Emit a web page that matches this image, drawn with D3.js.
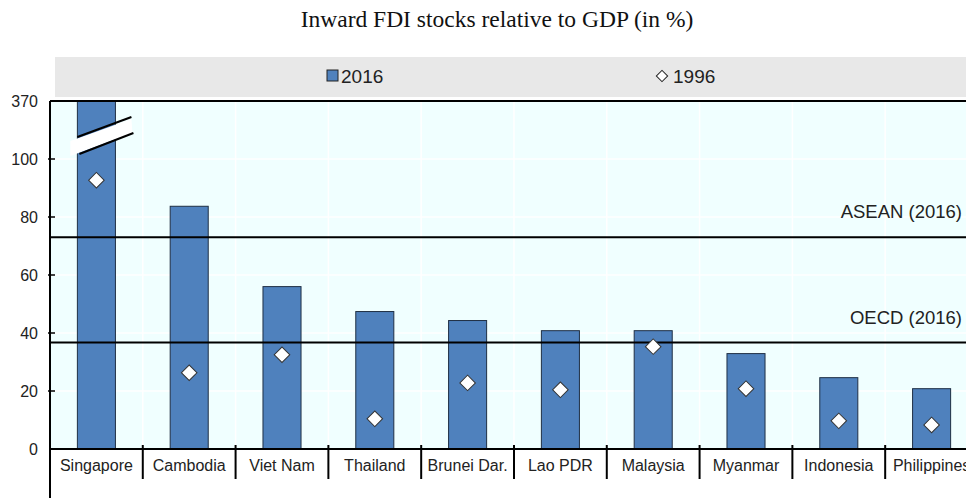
<!DOCTYPE html>
<html>
<head>
<meta charset="utf-8">
<script src="https://cdn.jsdelivr.net/npm/d3@7"></script>
<style>
  body { margin: 0; background: #fff; }
  text { font-family: "Liberation Sans Narrow", "Arial Narrow", "Liberation Sans", sans-serif; }
</style>
</head>
<body>
<div class="chart"></div>
<script>
// data
var countries = ["Singapore", "Cambodia", "Viet Nam", "Thailand", "Brunei Dar.", "Lao PDR", "Malaysia", "Myanmar", "Indonesia", "Philippines"];
var values2016 = [370, 83.7, 56, 47.4, 44.3, 40.8, 40.8, 32.9, 24.6, 20.8];
var values1996 = [92.7, 26.3, 32.5, 10.4, 22.8, 20.4, 35.3, 20.8, 9.7, 8.3];
var yTicks = [0, 20, 40, 60, 80, 100, 120];
var yTickLabels = ["0", "20", "40", "60", "80", "100", "370"];
var refLines = [{label: "ASEAN (2016)", value: 73}, {label: "OECD (2016)", value: 36.7}];
var breakValue = 120; // top of the axis stands for 370

var svgWidth = 966;
var svgHeight = 498;
var margin = {top: 101, right: 0, bottom: 49, left: 50};
var width = svgWidth - margin.left - margin.right;
var height = svgHeight - margin.top - margin.bottom;

var svg = d3.select(".chart").append("svg")
  .attr("width", svgWidth)
  .attr("height", svgHeight);

// title
svg.append("text")
  .attr("x", 497)
  .attr("y", 27)
  .attr("text-anchor", "middle")
  .style("font-family", "'Liberation Serif', 'Times New Roman', serif")
  .style("font-size", "23.5px")
  .attr("fill", "#111")
  .text("Inward FDI stocks relative to GDP (in %)");

// legend box
svg.append("rect")
  .attr("x", 55).attr("y", 57)
  .attr("width", 911).attr("height", 40)
  .attr("fill", "#e8e8e8");

svg.append("rect")
  .attr("x", 327).attr("y", 70)
  .attr("width", 11).attr("height", 11)
  .attr("fill", "#4f81bd").attr("stroke", "#222").attr("stroke-width", 1);
svg.append("text")
  .attr("x", 341).attr("y", 83)
  .style("font-size", "19px").attr("fill", "#222")
  .text("2016");

svg.append("path")
  .attr("transform", "translate(662,76) rotate(45)")
  .attr("d", "M-4,-4H4V4H-4Z")
  .attr("fill", "#fff").attr("stroke", "#222").attr("stroke-width", 1);
svg.append("text")
  .attr("x", 673).attr("y", 83)
  .style("font-size", "19px").attr("fill", "#222")
  .text("1996");

var chartGroup = svg.append("g")
  .attr("transform", `translate(${margin.left}, ${margin.top})`);

var xScale = d3.scaleBand()
  .domain(countries)
  .range([0, 92.8 * countries.length])
  .paddingInner(0.59)
  .paddingOuter(0.295);

var yScale = d3.scaleLinear()
  .domain([0, breakValue])
  .range([height, 0]);

// background
chartGroup.append("rect")
  .attr("width", width).attr("height", height)
  .attr("fill", "#f0ffff");

// white grid lines
chartGroup.selectAll(".hgrid")
  .data(yTicks.slice(1, -1))
  .enter().append("line")
  .attr("x1", 0).attr("x2", width)
  .attr("y1", d => yScale(d)).attr("y2", d => yScale(d))
  .attr("stroke", "#fff").attr("stroke-width", 1.5);

chartGroup.selectAll(".vgrid")
  .data(countries.slice(1))
  .enter().append("line")
  .attr("x1", d => xScale(d) - xScale.bandwidth() * 0.72)
  .attr("x2", d => xScale(d) - xScale.bandwidth() * 0.72)
  .attr("y1", 0).attr("y2", height)
  .attr("stroke", "#fff").attr("stroke-width", 1.5);

// bars
chartGroup.selectAll(".bar")
  .data(countries)
  .enter().append("rect")
  .attr("x", d => xScale(d))
  .attr("y", (d, i) => yScale(Math.min(values2016[i], breakValue)))
  .attr("width", xScale.bandwidth())
  .attr("height", (d, i) => height - yScale(Math.min(values2016[i], breakValue)))
  .attr("fill", "#4f81bd")
  .attr("stroke", "#1f2f44").attr("stroke-width", 1);

// axis break on the first bar
var bx = xScale(countries[0]);
var bw = xScale.bandwidth();
chartGroup.append("path")
  .attr("d", `M${bx - 7},${40} L${bx + bw + 16},${18} L${bx + bw + 17},${32} L${bx - 7},${55} Z`)
  .attr("fill", "#fff");
chartGroup.append("line")
  .attr("x1", bx).attr("y1", 36)
  .attr("x2", bx + bw + 16).attr("y2", 16)
  .attr("stroke", "#000").attr("stroke-width", 2);
chartGroup.append("line")
  .attr("x1", bx + 2).attr("y1", 53)
  .attr("x2", bx + bw + 18).attr("y2", 32)
  .attr("stroke", "#000").attr("stroke-width", 2);

// reference lines
chartGroup.selectAll(".ref")
  .data(refLines)
  .enter().append("line")
  .attr("x1", 0).attr("x2", width)
  .attr("y1", d => yScale(d.value)).attr("y2", d => yScale(d.value))
  .attr("stroke", "#000").attr("stroke-width", 2);

chartGroup.selectAll(".refLabel")
  .data(refLines)
  .enter().append("text")
  .attr("x", width - 4)
  .attr("y", d => yScale(d.value) - 19)
  .attr("text-anchor", "end")
  .style("font-size", "18.5px").attr("fill", "#222")
  .text(d => d.label);

// 1996 diamonds
chartGroup.selectAll(".dot")
  .data(countries)
  .enter().append("path")
  .attr("transform", (d, i) => `translate(${xScale(d) + bw / 2},${yScale(values1996[i])}) rotate(45)`)
  .attr("d", "M-5.5,-5.5H5.5V5.5H-5.5Z")
  .attr("fill", "#fff").attr("stroke", "#333").attr("stroke-width", 1);

// frame: top and zero lines
chartGroup.append("line")
  .attr("x1", 0).attr("x2", width).attr("y1", 0).attr("y2", 0)
  .attr("stroke", "#000").attr("stroke-width", 2);
chartGroup.append("line")
  .attr("x1", 0).attr("x2", width).attr("y1", height).attr("y2", height)
  .attr("stroke", "#000").attr("stroke-width", 2);

// y axis
var leftAxis = d3.axisLeft(yScale)
  .tickValues(yTicks)
  .tickFormat((d, i) => yTickLabels[i])
  .tickSize(0)
  .tickPadding(12);
var yAxis = chartGroup.append("g").call(leftAxis);
yAxis.select(".domain").remove();
yAxis.selectAll("text")
  .style("font-family", "'Liberation Sans Narrow', 'Arial Narrow', sans-serif")
  .style("font-size", "16px").attr("fill", "#222");

chartGroup.selectAll(".ytick")
  .data(yTicks.slice(1, -1))
  .enter().append("line")
  .attr("x1", -2).attr("x2", 5)
  .attr("y1", d => yScale(d)).attr("y2", d => yScale(d))
  .attr("stroke", "#000").attr("stroke-width", 1.5);

chartGroup.append("line")
  .attr("x1", 0).attr("x2", 0).attr("y1", 0).attr("y2", svgHeight - margin.top)
  .attr("stroke", "#000").attr("stroke-width", 2);

// x axis labels and separators
var bottomAxis = d3.axisBottom(xScale).tickSize(0).tickPadding(11);
var xAxis = chartGroup.append("g")
  .attr("transform", `translate(0, ${height})`)
  .call(bottomAxis);
xAxis.select(".domain").remove();
xAxis.selectAll("text")
  .style("font-family", "'Liberation Sans Narrow', 'Arial Narrow', sans-serif")
  .style("font-size", "16px").attr("fill", "#222");

chartGroup.selectAll(".xsep")
  .data(countries.slice(1))
  .enter().append("line")
  .attr("x1", d => xScale(d) - xScale.bandwidth() * 0.72)
  .attr("x2", d => xScale(d) - xScale.bandwidth() * 0.72)
  .attr("y1", height - 4).attr("y2", height + 30)
  .attr("stroke", "#000").attr("stroke-width", 2);
</script>
</body>
</html>
